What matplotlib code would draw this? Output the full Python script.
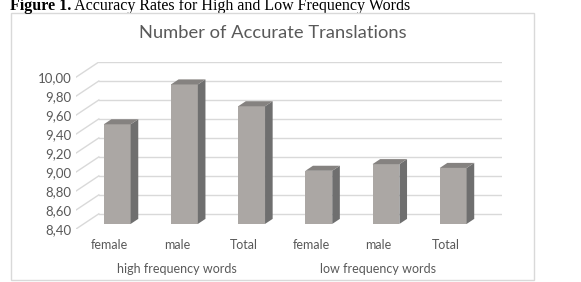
import matplotlib
matplotlib.use('Agg')
import numpy as np
import matplotlib.pyplot as plt
from matplotlib.patches import Polygon, Rectangle
from matplotlib.transforms import blended_transform_factory

categories = ['female', 'male', 'Total', 'female', 'male', 'Total']
groups = ['high frequency words', 'low frequency words']
values = [9.45, 9.87, 9.64, 8.96, 9.03, 8.99]
yticks = [8.40, 8.60, 8.80, 9.00, 9.20, 9.40, 9.60, 9.80, 10.00]

W, H = 581, 282
DX, DY = 0.34, 0.16   # depth of the 3d box in data units
BW = 0.40             # bar width
FRONT, SIDE, TOP = '#aba7a4', '#6f6f6f', '#858280'
GRID = '#d9d9d9'
TXT = '#595959'

plt.rcParams['font.family'] = ['Lato', 'DejaVu Sans']

fig = plt.figure(figsize=(W / 100, H / 100), dpi=100)
fig.patch.set_facecolor('white')

# chart frame
fig.patches.append(Rectangle((11 / W, 1 - 280 / H), 523 / W, 267 / H,
                             transform=fig.transFigure, fill=False,
                             edgecolor='#d9d9d9', lw=1))

ax = fig.add_axes([76 / W, 1 - 229 / H, 426 / W, 167 / H])
ax.set_xlim(-0.5, len(categories) - 0.5 + DX)
ax.set_ylim(yticks[0], yticks[-1] + DY)
for s in ax.spines.values():
    s.set_visible(False)

# side wall + back wall gridlines
x0, x1 = -0.5, len(categories) - 0.5
for v in yticks:
    ax.plot([x0, x0 + DX], [v, v + DY], color=GRID, lw=1, zorder=1)
    ax.plot([x0 + DX, x1 + DX], [v + DY, v + DY], color=GRID, lw=1, zorder=1)

# 3d bars
x = np.arange(len(categories))
base = yticks[0]
ox, oy = DX / 3, DY / 3
ax.bar(x + ox, np.array(values) - base, bottom=base + oy, width=BW,
       color=FRONT, zorder=3)
for xi, v in zip(x, values):
    l, r = xi + ox - BW / 2, xi + ox + BW / 2
    side = [(r, base + oy), (r, v + oy), (r + ox, v + 2 * oy), (r + ox, base + 2 * oy)]
    top = [(l, v + oy), (r, v + oy), (r + ox, v + 2 * oy), (l + ox, v + 2 * oy)]
    ax.add_patch(Polygon(side, closed=True, facecolor=SIDE, edgecolor='none', zorder=3))
    ax.add_patch(Polygon(top, closed=True, facecolor=TOP, edgecolor='none', zorder=3))

ax.set_yticks(yticks)
ax.set_yticklabels(['{:.2f}'.format(t).replace('.', ',') for t in yticks])
ax.set_xticks(x)
ax.set_xticklabels(categories)
ax.tick_params(axis='y', length=0, pad=3, labelsize=9.5, labelcolor=TXT)
ax.tick_params(axis='x', length=0, pad=7.5, labelsize=9, labelcolor=TXT)

tr = blended_transform_factory(ax.transData, ax.transAxes)
for i, g in enumerate(groups):
    ax.text(i * 3 + 1, -0.24, g, transform=tr, ha='center', va='center',
            fontsize=9, color=TXT)

fig.text(272.5 / W, 1 - 33 / H, 'Number of Accurate Translations',
         ha='center', va='center', fontsize=13.2, color=TXT)

# caption above the chart
cap = fig.text(10 / W, 1 - 10.5 / H, 'Figure 1.', ha='left', va='baseline',
               fontsize=11.5, fontweight='bold', family='Liberation Serif')
plt.annotate(' Accuracy Rates for High and Low Frequency Words', xy=(1, 0),
             xycoords=cap, ha='left', va='bottom', fontsize=11.5,
             family='Liberation Serif', annotation_clip=False)

fig.savefig('out.png', dpi=100)
